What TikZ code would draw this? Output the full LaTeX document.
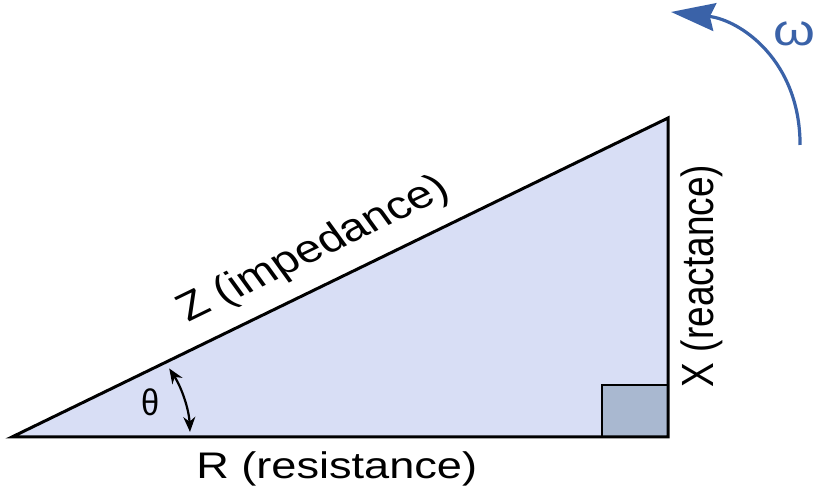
\documentclass[tikz,border=0pt]{standalone}
\usepackage{fontspec}
\setmainfont{Liberation Sans}
\usetikzlibrary{arrows.meta}
\definecolor{trifill}{HTML}{D8DEF5}
\definecolor{sqfill}{HTML}{A9B8D0}
\definecolor{omblue}{HTML}{3A62A8}
\begin{document}
\begin{tikzpicture}[x=1pt,y=1pt,
  lbl/.style={font=\fontsize{37}{40}\selectfont, inner sep=0pt, transform shape},
  edge/.style={line width=3pt, line join=miter}]
\begin{scope}[xscale=1.22]
\useasboundingbox (0,0) rectangle (669.67,489);
\coordinate (A) at (9.8,52);
\coordinate (B) at (547.5,52);
\coordinate (C) at (547.5,371);
\fill[trifill] (A) -- (B) -- (C) -- cycle;
\draw[line width=1.6pt, fill=sqfill] (B) ++(-54,0) coordinate (S1) rectangle ++(54,52);
\draw[edge] (A) -- (B) -- (C) -- cycle;
% labels
\node[lbl, anchor=base] (R) at (276,10) {R (resistance)};
\node[lbl, rotate=90] (X) at (575,213) {X (reactance)};
\node[lbl, rotate=30.7, font=\fontsize{39}{42}\selectfont] (Z) at (257.5,239) {Z (impedance)};
\node[lbl, font=\fontsize{37}{40}\selectfont] (T) at (123,87) {\scalebox{0.72}[1]{θ}};
% angle arrow
\draw[line width=2.2pt, {Stealth[length=15pt,width=12pt]}-{Stealth[length=15pt,width=12pt]}]
  ([shift={(28:146)}]A) arc[start angle=28, end angle=2, radius=146];
% omega arrow
\coordinate (o1) at (655.7,344);
\coordinate (o2) at (550,477);
\draw[omblue, line width=3.2pt, -{Stealth[length=44pt,width=28pt,inset=5pt]}]
  (o1) .. controls (655.7,429) and (606.6,469) .. (o2);
\node[lbl, font=\fontsize{44}{46}\selectfont, text=omblue] (W) at (651,455) {ω};
\end{scope}
\end{tikzpicture}
\end{document}
